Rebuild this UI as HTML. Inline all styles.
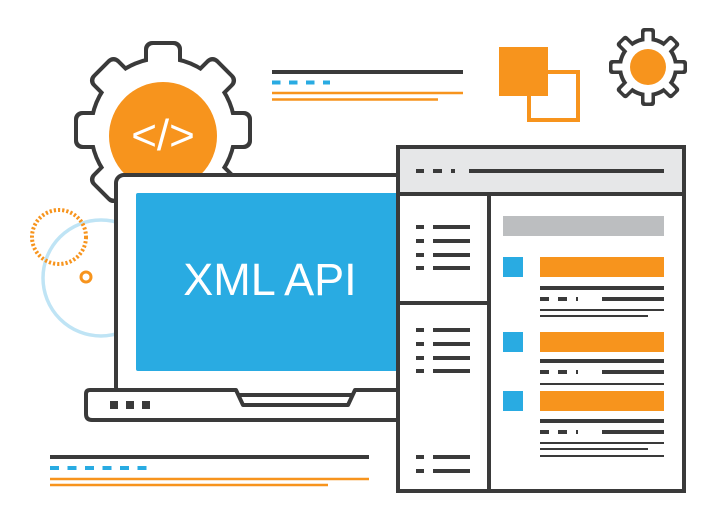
<!DOCTYPE html>
<html><head><style>html,body{margin:0;padding:0;background:#fff}svg{display:block}</style></head>
<body>
<svg width="726" height="530" viewBox="0 0 726 530" xmlns="http://www.w3.org/2000/svg">
<defs>
<g id="tb"><rect x="-19" y="-89" width="38" height="40" rx="8"/></g>
<g id="tw"><rect x="-15" y="-85" width="30" height="40" rx="5"/></g>
<g id="stb"><rect x="-7" y="-39" width="14" height="16" rx="3"/></g>
<g id="stw"><rect x="-3.5" y="-35.5" width="7" height="16" rx="1.5"/></g>
</defs>
<circle cx="101" cy="278" r="58" fill="none" stroke="#bfe4f5" stroke-width="3.5"/>
<circle cx="59" cy="237" r="27" fill="none" stroke="#f7941d" stroke-width="4" stroke-dasharray="2.2 2"/>
<circle cx="86" cy="277" r="5" fill="none" stroke="#f7941d" stroke-width="3"/>
<g transform="translate(163,130)" fill="#3a3a3a">
<circle r="74"/>
<use href="#tb"/><use href="#tb" transform="rotate(45)"/><use href="#tb" transform="rotate(90)"/><use href="#tb" transform="rotate(135)"/><use href="#tb" transform="rotate(180)"/><use href="#tb" transform="rotate(225)"/><use href="#tb" transform="rotate(270)"/><use href="#tb" transform="rotate(315)"/>
</g>
<g transform="translate(163,130)" fill="#fff">
<circle r="70"/>
<use href="#tw"/><use href="#tw" transform="rotate(45)"/><use href="#tw" transform="rotate(90)"/><use href="#tw" transform="rotate(135)"/><use href="#tw" transform="rotate(180)"/><use href="#tw" transform="rotate(225)"/><use href="#tw" transform="rotate(270)"/><use href="#tw" transform="rotate(315)"/>
</g>
<circle cx="163" cy="136" r="54" fill="#f7941d"/>
<text x="163" y="150" font-family="Liberation Sans, sans-serif" font-size="44" fill="#fff" text-anchor="middle">&lt;/&gt;</text>
<g transform="translate(648,67)" fill="#3a3a3a">
<circle r="30"/>
<use href="#stb"/><use href="#stb" transform="rotate(45)"/><use href="#stb" transform="rotate(90)"/><use href="#stb" transform="rotate(135)"/><use href="#stb" transform="rotate(180)"/><use href="#stb" transform="rotate(225)"/><use href="#stb" transform="rotate(270)"/><use href="#stb" transform="rotate(315)"/>
</g>
<g transform="translate(648,67)" fill="#fff">
<circle r="26"/>
<use href="#stw"/><use href="#stw" transform="rotate(45)"/><use href="#stw" transform="rotate(90)"/><use href="#stw" transform="rotate(135)"/><use href="#stw" transform="rotate(180)"/><use href="#stw" transform="rotate(225)"/><use href="#stw" transform="rotate(270)"/><use href="#stw" transform="rotate(315)"/>
</g>
<circle cx="648" cy="67" r="18" fill="#f7941d"/>
<rect x="529" y="72" width="49" height="48" fill="none" stroke="#f7941d" stroke-width="4"/>
<rect x="499" y="47" width="49" height="49" fill="#f7941d"/>
<line x1="272" y1="72" x2="463" y2="72" stroke="#3a3a3a" stroke-width="4"/>
<line x1="272" y1="82.5" x2="330" y2="82.5" stroke="#29abe2" stroke-width="4" stroke-dasharray="8.5 8.5"/>
<line x1="272" y1="93" x2="463" y2="93" stroke="#f7941d" stroke-width="2.5"/>
<line x1="272" y1="99.5" x2="438" y2="99.5" stroke="#f7941d" stroke-width="2.5"/>
<line x1="50" y1="457" x2="369" y2="457" stroke="#3a3a3a" stroke-width="4"/>
<line x1="50" y1="468" x2="148" y2="468" stroke="#29abe2" stroke-width="4" stroke-dasharray="9 8.5"/>
<line x1="50" y1="479" x2="369" y2="479" stroke="#f7941d" stroke-width="2.5"/>
<line x1="50" y1="485" x2="328" y2="485" stroke="#f7941d" stroke-width="2.5"/>
<rect x="116" y="175" width="300" height="220" rx="8" fill="#fff" stroke="#3a3a3a" stroke-width="4"/>
<rect x="136" y="193" width="270" height="178" rx="2" fill="#29abe2"/>
<path d="M90 390 H236 L243 405 H348 L355 390 H410 V420 H92 Q86 420 86 414 V394 Q86 390 90 390 Z" fill="#fff" stroke="#3a3a3a" stroke-width="4" stroke-linejoin="round"/>
<rect x="110" y="401" width="8" height="8" fill="#3a3a3a"/>
<rect x="126" y="401" width="8" height="8" fill="#3a3a3a"/>
<rect x="142" y="401" width="8" height="8" fill="#3a3a3a"/>
<text x="270" y="295" font-family="Liberation Sans, sans-serif" font-size="45" fill="#fff" text-anchor="middle" style="font-weight:300">XML API</text>
<rect x="398" y="147" width="286" height="344" fill="#fff" stroke="#3a3a3a" stroke-width="4"/>
<rect x="400" y="149" width="282" height="44" fill="#e6e7e8"/>
<line x1="398" y1="194" x2="684" y2="194" stroke="#3a3a3a" stroke-width="4"/>
<line x1="489" y1="194" x2="489" y2="491" stroke="#3a3a3a" stroke-width="4"/>
<line x1="398" y1="303" x2="489" y2="303" stroke="#3a3a3a" stroke-width="4"/>
<g stroke="#3a3a3a" stroke-width="4">
<line x1="416" y1="171" x2="424" y2="171"/><line x1="433" y1="171" x2="442" y2="171"/><line x1="451" y1="171" x2="455" y2="171"/><line x1="469" y1="171" x2="664" y2="171"/>
<g id="li"><line x1="416" y1="227" x2="424" y2="227"/><line x1="433" y1="227" x2="470" y2="227"/></g>
<use href="#li" y="14"/><use href="#li" y="28"/><use href="#li" y="41"/>
<use href="#li" y="103"/><use href="#li" y="117"/><use href="#li" y="131"/><use href="#li" y="144"/>
<use href="#li" y="230"/><use href="#li" y="244"/>
</g>
<rect x="503" y="216" width="161" height="20" fill="#bcbec0"/>
<g fill="#29abe2"><rect x="503" y="257" width="20" height="20"/><rect x="503" y="332" width="20" height="20"/><rect x="503" y="391" width="20" height="20"/></g>
<g fill="#f7941d"><rect x="540" y="257" width="124" height="20"/><rect x="540" y="332" width="124" height="20"/><rect x="540" y="391" width="124" height="20"/></g>
<g stroke="#3a3a3a">
<g id="bl" stroke-width="4"><line x1="540" y1="288" x2="664" y2="288"/><line x1="540" y1="299" x2="549" y2="299"/><line x1="558" y1="299" x2="567" y2="299"/><line x1="576" y1="299" x2="578" y2="299"/><line x1="602" y1="299" x2="664" y2="299"/></g>
<line x1="540" y1="310" x2="664" y2="310" stroke-width="2"/><line x1="540" y1="316" x2="648" y2="316" stroke-width="2"/>
<use href="#bl" y="73"/>
<line x1="540" y1="384" x2="664" y2="384" stroke-width="2"/>
<use href="#bl" y="133"/>
<line x1="540" y1="443" x2="664" y2="443" stroke-width="2"/><line x1="540" y1="449" x2="648" y2="449" stroke-width="2"/><line x1="540" y1="456" x2="664" y2="456" stroke-width="2"/>
</g>
</svg>
</body></html>
